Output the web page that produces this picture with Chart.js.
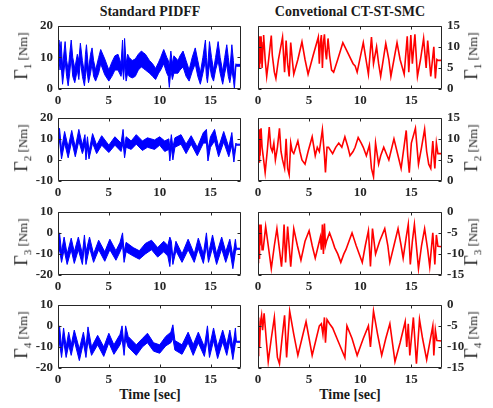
<!DOCTYPE html>
<html>
<head>
<meta charset="utf-8">
<script src="https://cdn.jsdelivr.net/npm/chart.js@4.4.0/dist/chart.umd.min.js"></script>
<style>
  body { margin: 0; background: #fff; }
  #wrap { position: relative; width: 493px; height: 408px; font-family: "Liberation Serif", "Times New Roman", serif; color: #1a1a1a; }
  canvas { position: absolute; }
  .title { position: absolute; font-weight: bold; font-size: 14px; white-space: nowrap; transform: translateX(-50%); }
  .ylab { position: absolute; font-size: 13px; white-space: nowrap; transform: translate(-50%, -50%) rotate(-90deg); }
  .ylab .g { font-size: 18px; }
  .ylab sub { font-size: 11px; }
</style>
</head>
<body>
<div id="wrap">
  <div class="title" style="left:150px;top:4px">Standard PIDFF</div>
  <div class="title" style="left:350px;top:4px">Convetional CT-ST-SMC</div>
  <div class="title" style="left:150px;top:387px">Time [sec]</div>
  <div class="title" style="left:350px;top:387px">Time [sec]</div>
</div>
<script>
// ---- DATA (turning points of each trace) ----
// Standard PIDFF (blue) : time, upper edge and lower edge of the noisy band
const timeB1 = [0, 0.1, 0.2, 0.3, 0.45, 0.6, 0.7, 0.85, 1.0, 1.15,
  1.3, 1.45, 1.65, 1.9, 2.05, 2.2, 2.4, 2.6, 2.7, 2.8,
  3.0, 3.2, 3.35, 3.5, 3.7, 4.0, 4.2, 4.6, 5.0, 5.3,
  5.6, 5.9, 6.2, 6.35, 6.45, 6.55, 6.7, 6.85, 7.0, 7.3,
  7.6, 7.9, 8.2, 8.4, 8.6, 9.0, 9.3, 9.6, 9.9, 10.1,
  10.4, 10.7, 10.85, 10.95, 11.1, 11.25, 11.4, 11.8, 12.0, 12.3,
  12.6, 12.9, 13.2, 13.5, 13.75, 14.0, 14.25, 14.5, 14.6, 14.7,
  14.9, 15.1, 15.3, 15.5, 15.75, 15.95, 16.2, 16.4, 16.6, 16.75,
  16.9, 17.1, 17.25, 17.35, 17.5, 17.55, 18];
const hiB1 = [14, 15.5, 12, 15, 7, 12, 15, 9, 6, 11,
  15.5, 10, 6.5, 11, 9, 14.5, 9, 5, 11, 14,
  6, 11, 13, 9, 6, 10, 12.5, 9.5, 6, 8.5,
  10.5, 11, 8, 15.5, 6, 16, 8, 11, 10, 9,
  9.5, 11, 12, 11.5, 11, 9, 8, 6.5, 8.5, 10,
  12.5, 10, 9, 7, 12, 8, 10.5, 9, 10.5, 12,
  9, 6, 10, 13, 9, 5, 10, 15.5, 10, 6,
  15, 10, 6, 10, 15, 10, 5.5, 10, 14, 10,
  6, 14, 9, 4, 8, 7.8, 7.8];
const loB1 = [7, 9, 6, 8, 1.5, 6, 9, 4, 1, 5,
  10, 4, 2, 6, 3, 9, 4, 1, 4, 7,
  2, 5, 8, 4, 2.5, 5, 8, 4.5, 2.5, 4,
  6, 6, 4, 7, 3, 8, 2.5, 5, 4, 3.5,
  4, 6, 7, 6.5, 6, 5, 4, 3, 5, 6,
  8, 5, 4, 0.5, 6, 3, 5, 5, 6, 7,
  4, 2.5, 5.5, 8, 4, 1.5, 5, 9, 4, 2,
  8, 4, 2.5, 6, 9, 5, 1.5, 5, 8, 4,
  2, 6, 3, 0, 7, 7.2, 7.2];

const timeB2 = [0, 0.15, 0.35, 0.65, 1.0, 1.35, 1.7, 2.05, 2.4, 2.65, 2.75, 2.9, 3.05, 3.4, 3.8, 4.3, 5.0, 5.6, 6.2, 6.4, 6.55, 6.7, 7.2, 7.7, 8.3, 8.8, 9.5, 10.0, 10.5, 10.9, 11.0, 11.15, 11.3, 11.5, 12.1, 12.6, 13.1, 13.7, 14.3, 14.6, 14.75, 15.0, 15.4, 15.8, 16.3, 16.8, 17.1, 17.3, 17.5, 17.55, 18];
const hiB2 = [13, 15, 5, 13.5, 6, 14, 6, 14.5, 7, 12, 5, 11, 4, 12.5, 7, 11.5, 7, 11, 8, 14.5, 6, 11, 9, 12, 9, 10.5, 9.5, 11, 9, 10, 6, 12, 6, 10.5, 12, 7.5, 11.5, 6, 13, 14.5, 5, 11, 14.5, 6, 13.5, 6, 13, 3, 8, 7.5, 7.5];
const loB2 = [7, 9, 0.5, 8, 1, 9, 1.5, 9, 3, 7, 0, 6, 0.5, 8, 3, 7, 3.5, 7, 4, 8, 1, 6, 5, 7.5, 4.5, 6, 5, 7, 4, 5, -0.5, 6, 0, 6, 7.5, 3, 7.5, 2, 8, 8, -0.5, 6, 9, 1.5, 8.5, 1.5, 7, -1, 6.5, 7, 7];

const timeB3 = [0, 0.15, 0.35, 0.6, 0.9, 1.3, 1.6, 2.0, 2.4, 2.6, 2.75, 3.1, 3.5, 4.0, 4.6, 5.1, 5.7, 6.1, 6.35, 6.5, 6.7, 7.4, 8.0, 8.6, 9.2, 9.8, 10.4, 10.8, 11.0, 11.15, 11.3, 11.6, 12.2, 12.8, 13.4, 13.8, 14.3, 14.6, 14.8, 15.2, 15.6, 16.1, 16.5, 16.9, 17.2, 17.45, 17.55, 18];
const hiB3 = [-3, 0, -9, -2, -10, -2.5, -9, -2, -10, -1, -9, -2, -10, -3.5, -9, -3, -8.5, -4.5, 0, -9, -4.5, -7, -8.5, -5, -3.5, -7, -4, -6, -2, -4, -12, -4, -10, -3, -10, -2.5, -10, 0, -10, -1, -10, -2, -9, -3, -11, -3, -7.3, -7.3];
const loB3 = [-10, -8, -14, -8, -15, -8, -14.5, -8, -15, -6, -15, -7, -14, -8, -13.5, -8, -13, -9, -6, -14, -9, -11, -12.5, -10, -8, -11.5, -9, -11, -16, -8, -15, -8.5, -14, -8, -14, -7.5, -14.5, -6, -14, -7, -15, -7.5, -14, -8, -17, -9, -7.8, -7.8];

const timeB4 = [0, 0.15, 0.35, 0.55, 0.8, 1.05, 1.3, 1.6, 2.1, 2.5, 2.75, 2.95, 3.3, 3.9, 4.5, 5.0, 5.5, 6.1, 6.3, 6.5, 6.65, 6.9, 7.7, 8.3, 8.8, 9.4, 10.0, 10.6, 11.1, 11.3, 11.5, 12.2, 12.8, 13.3, 13.8, 14.4, 14.7, 14.9, 15.3, 15.7, 16.2, 16.6, 16.9, 17.2, 17.45, 17.55, 18];
const hiB4 = [-2, 0, -10, -1, -10, -3, -9, -2, -11, -3, -10, -0.5, -10, -4.5, -10, -3.5, -9, -4, 0, -10, 0, -5, -9, -6, -3.5, -8, -9, -5, -3, 0.5, -7, -9, -3, -9, -3, -10, 0, -10, -1, -10, -2, -9, -2, -10, -1, -7.3, -7.3];
const loB4 = [-12, -8, -15, -7, -15, -9, -14, -7, -16.5, -8, -15, -7, -14, -9, -14.5, -8, -13.5, -9, -6, -14, -6, -10, -14, -10, -8, -12, -13, -9.5, -8, -6, -11.5, -13.5, -8, -14, -8, -14.5, -6, -15, -7, -15.5, -7.5, -14, -7, -16, -8, -7.8, -7.8];

// Convetional CT-ST-SMC (red) : time and torque
const timeR1 = [0, 0.05, 0.1, 0.15, 0.2, 0.3, 0.4, 0.5, 0.55, 0.7,
  0.85, 1.0, 1.3, 1.4, 1.5, 1.6, 1.75, 2.0, 2.4, 2.5,
  2.6, 2.75, 2.9, 3.05, 3.2, 3.35, 3.5, 3.9, 4.3, 4.6,
  4.9, 5.4, 5.9, 6.0, 6.1, 6.2, 6.3, 6.4, 6.5, 6.6,
  6.7, 6.85, 7.0, 7.2, 7.4, 7.8, 8.3, 8.5, 8.8, 9.3,
  9.5, 9.7, 10.0, 10.3, 10.5, 10.8, 11.1, 11.3, 11.6, 11.8,
  12.0, 12.5, 12.8, 13.0, 13.3, 13.6, 13.9, 14.3, 14.6, 14.75,
  14.95, 15.1, 15.35, 15.6, 15.9, 16.2, 16.45, 16.6, 16.9, 17.2,
  17.35, 17.5, 17.6, 18];
const valR1 = [8, 12, 5, 12.5, 6, 12.5, 5, 11, 12.8, 7,
  3, 6, 12.7, 8, 6, 4, 2.5, 7, 12.3, 8,
  4, 11.5, 6, 3, 11, 7, 3.5, 7, 11.2, 7,
  3.5, 8, 12.3, 6, 11, 12.8, 5, 11, 13, 9,
  7, 12, 8, 4.5, 4, 7, 11, 10, 8.5, 6,
  5.5, 4, 7.5, 11, 8, 3.5, 12.3, 6, 10, 6,
  3, 10.8, 7, 3, 7, 11, 7, 3.5, 12.5, 4,
  12.8, 6, 13, 3, 7, 12, 5, 11.5, 3, 10,
  2.5, 7, 6.8, 6.8];

const timeR2 = [0, 0.05, 0.1, 0.15, 0.2, 0.3, 0.4, 0.5, 0.7, 0.9,
  1.1, 1.25, 1.4, 1.55, 1.7, 1.9, 2.1, 2.25, 2.4, 2.6,
  2.75, 2.9, 3.05, 3.2, 3.35, 3.5, 3.7, 3.9, 4.1, 4.3,
  4.6, 4.9, 5.3, 5.6, 5.8, 6.0, 6.3, 6.5, 6.6, 6.75,
  6.9, 7.3, 7.6, 7.9, 8.2, 8.5, 8.8, 9.0, 9.3, 9.5,
  9.8, 10.1, 10.3, 10.6, 10.9, 11.1, 11.3, 11.5, 11.8, 12.0,
  12.3, 12.8, 13.0, 13.3, 13.7, 14.0, 14.5, 14.65, 14.8, 15.0,
  15.4, 15.7, 16.0, 16.3, 16.5, 16.7, 16.9, 17.1, 17.2, 17.3,
  17.45, 17.6, 18];
const valR2 = [8, 12, 4.5, 12.3, 6, 12.5, 8, 6, 2, 7,
  12.8, 8, 7, 9, 5, 8, 12.5, 7, 5, 3,
  10, 3, 1.5, 9, 7, 6.5, 8, 9.5, 7, 5,
  4, 7, 10.5, 6, 8, 7, 12.2, 6, 2, 8,
  8, 6.5, 8, 9, 8, 10.5, 8, 6, 7, 8,
  10.3, 9, 8, 6, 8.5, 3, 1, 9, 4, 6,
  8, 5, 7, 10, 6, 3, 12, 6, 2, 9,
  12.5, 4, 8, 12.3, 7, 4, 3, 9.5, 6, 3,
  9, 6.5, 6.5];

const timeR3 = [0, 0.05, 0.1, 0.15, 0.2, 0.3, 0.4, 0.5, 0.75, 1.0,
  1.3, 1.6, 1.85, 2.1, 2.3, 2.45, 2.55, 2.7, 2.9, 3.2,
  3.5, 3.85, 4.2, 4.6, 5.0, 5.3, 5.6, 5.9, 6.1, 6.2,
  6.3, 6.4, 6.5, 6.6, 6.7, 7.0, 7.3, 7.5, 7.8, 8.1,
  8.4, 8.6, 8.9, 9.2, 9.6, 9.9, 10.2, 10.5, 10.8, 11.0,
  11.2, 11.5, 11.9, 12.4, 12.7, 12.9, 13.3, 13.7, 14.0, 14.2,
  14.5, 14.7, 14.9, 15.1, 15.3, 15.7, 16.0, 16.3, 16.6, 16.8,
  17.1, 17.3, 17.45, 17.6, 18];
const valR3 = [-12, -4, -11, -3, -8, -3, -9, -9, -3.5, -8,
  -13.5, -8, -4, -9, -13, -8, -3, -12, -3.5, -13,
  -4, -8, -11.5, -7, -4.5, -8, -11, -8, -6, -9,
  -3, -10, -2.8, -8, -7, -5, -7, -8.5, -10, -12,
  -10, -9, -7, -5, -8, -10, -12, -8, -4.5, -13,
  -4, -10, -7, -4, -8, -12, -8, -4, -8, -11,
  -6, -3, -12.5, -7, -3, -13.5, -8, -4, -9, -13,
  -5, -12.5, -5.5, -8.2, -8.3];

const timeR4 = [0, 0.05, 0.08, 0.15, 0.25, 0.35, 0.45, 0.6, 0.8, 1.0,
  1.3, 1.6, 1.75, 1.9, 2.1, 2.35, 2.6, 2.8, 3.1, 3.5,
  3.9, 4.3, 4.7, 5.0, 5.3, 5.7, 6.0, 6.2, 6.35, 6.5,
  6.6, 6.75, 7.0, 7.3, 7.9, 8.5, 8.7, 9.2, 9.7, 10.0,
  10.3, 10.8, 11.0, 11.3, 11.7, 12.1, 12.5, 12.9, 13.4, 13.9,
  14.4, 14.55, 14.7, 14.85, 15.2, 15.5, 15.8, 16.1, 16.5, 16.8,
  17.1, 17.2, 17.35, 17.5, 18];
const valR4 = [-12, -3, -8, -10, -4, -2.5, -6, -2, -8, -13.5,
  -8, -3, -8, -12.5, -14, -8, -2.5, -12.5, -1.5, -7,
  -12, -8, -4, -8, -12, -8, -5, -4.5, -7, -3,
  -9, -3.5, -4.5, -5.5, -9, -12.5, -5, -8, -12, -10,
  -8, -5, -10, -1.5, -7, -12, -8, -4.5, -13.5, -9,
  -4, -10, -4.5, -12, -3, -14, -3.5, -8, -13, -9,
  -5, -12, -6, -8.5, -8.6];

// axis limits per row
const yLimLeft = [[0, 20], [-10, 20], [-20, 10], [-20, 10]];
const yLimRight = [[0, 15], [0, 15], [-15, 0], [-15, 0]];
const xLim = [0, 18];

// ---- LAYOUT ----
const rowTops = [23, 115, 209, 302];
const plotH = 66;
const BLUE = '#0000ff';
const RED = '#ff0000';
const AXIS = '#262626';
const tickFont = { family: 'Liberation Serif', weight: 'bold', size: 13 };

function pts(t, v) {
  if (t.length !== v.length) throw new Error('length mismatch ' + t.length + ' vs ' + v.length);
  return t.map((x, i) => ({ x: x, y: v[i] }));
}

// MATLAB style box with inward ticks on all four sides
const boxPlugin = {
  id: 'box',
  afterDraw(chart) {
    const { ctx, chartArea: a, scales } = chart;
    const x = scales.x, y = scales.y;
    const L = Math.round(a.left) + 0.5, R = Math.round(a.right) - 0.5;
    const T = Math.round(a.top) + 0.5, B = Math.round(a.bottom) - 0.5;
    ctx.save();
    ctx.strokeStyle = AXIS;
    ctx.lineWidth = 1;
    ctx.beginPath();
    x.ticks.forEach(t => {
      const px = Math.round(x.getPixelForValue(t.value)) + 0.5;
      ctx.moveTo(px, B); ctx.lineTo(px, B - 3);
      ctx.moveTo(px, T); ctx.lineTo(px, T + 3);
    });
    y.ticks.forEach(t => {
      const py = Math.round(y.getPixelForValue(t.value)) + 0.5;
      ctx.moveTo(L, py); ctx.lineTo(L + 3, py);
      ctx.moveTo(R, py); ctx.lineTo(R - 3, py);
    });
    ctx.rect(L, T, R - L, B - T);
    ctx.stroke();
    ctx.restore();
  }
};

function makePanel(row, side, datasets, yLim, step, label) {
  const wrap = document.getElementById('wrap');
  const c = document.createElement('canvas');
  const left = side === 'left' ? 18 : 250;
  c.width = 232;
  c.height = plotH + 10 + 20;
  c.style.left = left + 'px';
  c.style.top = (rowTops[row] - 10) + 'px';
  wrap.appendChild(c);

  const lab = document.createElement('div');
  lab.className = 'ylab';
  lab.innerHTML = label;
  lab.style.left = (side === 'left' ? 22 : 472) + 'px';
  lab.style.top = (rowTops[row] + plotH / 2) + 'px';
  wrap.appendChild(lab);

  new Chart(c, {
    type: 'line',
    data: { datasets: datasets },
    options: {
      responsive: false,
      animation: false,
      devicePixelRatio: 1,
      layout: { padding: side === 'left' ? { top: 10, right: 9 } : { top: 10, left: 8 } },
      plugins: { legend: { display: false }, tooltip: { enabled: false } },
      elements: { point: { radius: 0 }, line: { tension: 0 } },
      scales: {
        x: {
          type: 'linear', min: xLim[0], max: xLim[1],
          grid: { display: false, drawTicks: false }, border: { display: false },
          ticks: { stepSize: 5, padding: 4, color: AXIS, font: tickFont, maxRotation: 0 },
          afterBuildTicks: s => { s.ticks = s.ticks.filter(t => t.value % 5 === 0 && t.value < 18); },
          afterFit: s => { s.height = 20; }
        },
        y: {
          position: side, min: yLim[0], max: yLim[1],
          grid: { display: false, drawTicks: false }, border: { display: false },
          ticks: { stepSize: step, padding: 5, color: AXIS, font: tickFont },
          afterFit: s => { s.width = 40; }
        }
      }
    },
    plugins: [boxPlugin]
  });
}

function blueSets(t, hi, lo) {
  return [
    { data: pts(t, hi), borderColor: BLUE, borderWidth: 1, fill: false },
    { data: pts(t, lo), borderColor: BLUE, borderWidth: 1, fill: '-1', backgroundColor: BLUE }
  ];
}
function redSets(t, v) {
  return [{ data: pts(t, v), borderColor: RED, borderWidth: 1.6, fill: false }];
}

function gamma(n) {
  return '<span class="g">&Gamma;</span><sub>' + n + '</sub> [Nm]';
}

makePanel(0, 'left', blueSets(timeB1, hiB1, loB1), yLimLeft[0], 10, gamma(1));
makePanel(1, 'left', blueSets(timeB2, hiB2, loB2), yLimLeft[1], 10, gamma(2));
makePanel(2, 'left', blueSets(timeB3, hiB3, loB3), yLimLeft[2], 10, gamma(3));
makePanel(3, 'left', blueSets(timeB4, hiB4, loB4), yLimLeft[3], 10, gamma(4));

makePanel(0, 'right', redSets(timeR1, valR1), yLimRight[0], 5, gamma(1));
makePanel(1, 'right', redSets(timeR2, valR2), yLimRight[1], 5, gamma(2));
makePanel(2, 'right', redSets(timeR3, valR3), yLimRight[2], 5, gamma(3));
makePanel(3, 'right', redSets(timeR4, valR4), yLimRight[3], 5, gamma(4));
</script>
</body>
</html>
